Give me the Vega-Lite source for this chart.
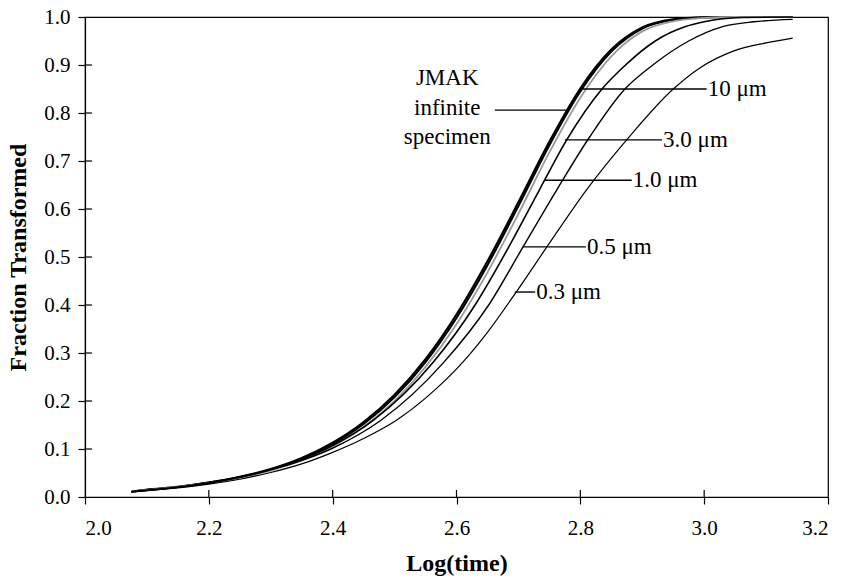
{
  "$schema": "https://vega.github.io/schema/vega-lite/v6.json",
  "width": 743,
  "height": 480,
  "autosize": "none",
  "padding": {"left": 85, "top": 17, "right": 16, "bottom": 84},
  "background": "white",
  "config": {
    "font": "Liberation Serif",
    "view": {"stroke": "black", "strokeWidth": 1.2},
    "axis": {"grid": false, "domainColor": "black", "tickColor": "black", "labelColor": "black", "titleColor": "black", "domainWidth": 1.2, "tickWidth": 1.2, "labelFont": "Liberation Serif", "titleFont": "Liberation Serif"},
    "text": {"font": "Liberation Serif"}
  },
  "datasets": {
    "curves": [
      {"s":"JMAK","L":2.075,"f":0.011},{"s":"JMAK","L":2.10,"f":0.015},{"s":"JMAK","L":2.15,"f":0.021},{"s":"JMAK","L":2.20,"f":0.030},{"s":"JMAK","L":2.25,"f":0.042},{"s":"JMAK","L":2.30,"f":0.058},{"s":"JMAK","L":2.35,"f":0.081},{"s":"JMAK","L":2.40,"f":0.113},{"s":"JMAK","L":2.45,"f":0.156},{"s":"JMAK","L":2.50,"f":0.213},{"s":"JMAK","L":2.55,"f":0.287},{"s":"JMAK","L":2.60,"f":0.380},{"s":"JMAK","L":2.65,"f":0.491},{"s":"JMAK","L":2.70,"f":0.614},{"s":"JMAK","L":2.75,"f":0.740},{"s":"JMAK","L":2.80,"f":0.851},{"s":"JMAK","L":2.85,"f":0.932},{"s":"JMAK","L":2.90,"f":0.978},{"s":"JMAK","L":2.95,"f":0.995},{"s":"JMAK","L":3.00,"f":0.9995},{"s":"JMAK","L":3.05,"f":1.0},{"s":"JMAK","L":3.143,"f":1.0},
      {"s":"10 μm","L":2.075,"f":0.011},{"s":"10 μm","L":2.10,"f":0.015},{"s":"10 μm","L":2.15,"f":0.021},{"s":"10 μm","L":2.20,"f":0.030},{"s":"10 μm","L":2.25,"f":0.041},{"s":"10 μm","L":2.30,"f":0.057},{"s":"10 μm","L":2.35,"f":0.079},{"s":"10 μm","L":2.40,"f":0.110},{"s":"10 μm","L":2.45,"f":0.152},{"s":"10 μm","L":2.50,"f":0.208},{"s":"10 μm","L":2.55,"f":0.281},{"s":"10 μm","L":2.60,"f":0.373},{"s":"10 μm","L":2.65,"f":0.483},{"s":"10 μm","L":2.70,"f":0.606},{"s":"10 μm","L":2.75,"f":0.733},{"s":"10 μm","L":2.80,"f":0.845},{"s":"10 μm","L":2.85,"f":0.928},{"s":"10 μm","L":2.90,"f":0.976},{"s":"10 μm","L":2.95,"f":0.994},{"s":"10 μm","L":3.00,"f":0.999},{"s":"10 μm","L":3.05,"f":1.0},{"s":"10 μm","L":3.143,"f":1.0},
      {"s":"3.0 μm","L":2.075,"f":0.011},{"s":"3.0 μm","L":2.15,"f":0.021},{"s":"3.0 μm","L":2.20,"f":0.029},{"s":"3.0 μm","L":2.25,"f":0.040},{"s":"3.0 μm","L":2.30,"f":0.055},{"s":"3.0 μm","L":2.35,"f":0.076},{"s":"3.0 μm","L":2.40,"f":0.106},{"s":"3.0 μm","L":2.45,"f":0.146},{"s":"3.0 μm","L":2.50,"f":0.200},{"s":"3.0 μm","L":2.55,"f":0.271},{"s":"3.0 μm","L":2.60,"f":0.360},{"s":"3.0 μm","L":2.65,"f":0.468},{"s":"3.0 μm","L":2.70,"f":0.590},{"s":"3.0 μm","L":2.75,"f":0.718},{"s":"3.0 μm","L":2.80,"f":0.832},{"s":"3.0 μm","L":2.85,"f":0.918},{"s":"3.0 μm","L":2.90,"f":0.970},{"s":"3.0 μm","L":2.95,"f":0.991},{"s":"3.0 μm","L":3.00,"f":0.998},{"s":"3.0 μm","L":3.05,"f":1.0},{"s":"3.0 μm","L":3.143,"f":1.0},
      {"s":"1.0 μm","L":2.075,"f":0.011},{"s":"1.0 μm","L":2.203,"f":0.03},{"s":"1.0 μm","L":2.307,"f":0.06},{"s":"1.0 μm","L":2.389,"f":0.10},{"s":"1.0 μm","L":2.466,"f":0.16},{"s":"1.0 μm","L":2.562,"f":0.28},{"s":"1.0 μm","L":2.630,"f":0.40},{"s":"1.0 μm","L":2.684,"f":0.52},{"s":"1.0 μm","L":2.734,"f":0.64},{"s":"1.0 μm","L":2.778,"f":0.744},{"s":"1.0 μm","L":2.835,"f":0.85},{"s":"1.0 μm","L":2.873,"f":0.90},{"s":"1.0 μm","L":2.921,"f":0.95},{"s":"1.0 μm","L":2.970,"f":0.98},{"s":"1.0 μm","L":3.000,"f":0.99},{"s":"1.0 μm","L":3.06,"f":0.999},{"s":"1.0 μm","L":3.143,"f":1.0},
      {"s":"0.5 μm","L":2.075,"f":0.011},{"s":"0.5 μm","L":2.205,"f":0.03},{"s":"0.5 μm","L":2.310,"f":0.06},{"s":"0.5 μm","L":2.397,"f":0.10},{"s":"0.5 μm","L":2.478,"f":0.16},{"s":"0.5 μm","L":2.579,"f":0.28},{"s":"0.5 μm","L":2.652,"f":0.40},{"s":"0.5 μm","L":2.707,"f":0.52},{"s":"0.5 μm","L":2.762,"f":0.64},{"s":"0.5 μm","L":2.815,"f":0.75},{"s":"0.5 μm","L":2.872,"f":0.85},{"s":"0.5 μm","L":2.917,"f":0.90},{"s":"0.5 μm","L":2.975,"f":0.95},{"s":"0.5 μm","L":3.03,"f":0.98},{"s":"0.5 μm","L":3.08,"f":0.99},{"s":"0.5 μm","L":3.143,"f":0.995},
      {"s":"0.3 μm","L":2.075,"f":0.011},{"s":"0.3 μm","L":2.15,"f":0.019},{"s":"0.3 μm","L":2.20,"f":0.027},{"s":"0.3 μm","L":2.25,"f":0.037},{"s":"0.3 μm","L":2.30,"f":0.051},{"s":"0.3 μm","L":2.35,"f":0.069},{"s":"0.3 μm","L":2.396,"f":0.091},{"s":"0.3 μm","L":2.45,"f":0.122},{"s":"0.3 μm","L":2.503,"f":0.160},{"s":"0.3 μm","L":2.55,"f":0.206},{"s":"0.3 μm","L":2.611,"f":0.282},{"s":"0.3 μm","L":2.65,"f":0.343},{"s":"0.3 μm","L":2.697,"f":0.428},{"s":"0.3 μm","L":2.746,"f":0.521},{"s":"0.3 μm","L":2.810,"f":0.640},{"s":"0.3 μm","L":2.88,"f":0.752},{"s":"0.3 μm","L":2.950,"f":0.85},{"s":"0.3 μm","L":2.993,"f":0.894},{"s":"0.3 μm","L":3.047,"f":0.929},{"s":"0.3 μm","L":3.10,"f":0.946},{"s":"0.3 μm","L":3.143,"f":0.956}
    ],
    "leaders": [
      {"L1":2.662,"L2":2.779,"f":0.806,"t":""},
      {"L1":2.804,"L2":3.004,"f":0.850,"t":"10 μm"},
      {"L1":2.775,"L2":2.932,"f":0.744,"t":"3.0 μm"},
      {"L1":2.743,"L2":2.883,"f":0.660,"t":"1.0 μm"},
      {"L1":2.707,"L2":2.809,"f":0.521,"t":"0.5 μm"},
      {"L1":2.694,"L2":2.727,"f":0.427,"t":"0.3 μm"}
    ],
    "jmak": [
      {"L":2.585,"f":0.873,"t":"JMAK"},
      {"L":2.585,"f":0.810,"t":"infinite"},
      {"L":2.585,"f":0.750,"t":"specimen"}
    ],
    "yticks": [{"v":0.1},{"v":0.2},{"v":0.3},{"v":0.4},{"v":0.5},{"v":0.6},{"v":0.7},{"v":0.8},{"v":0.9}],
    "xticks": [{"v":2.2},{"v":2.4},{"v":2.6},{"v":2.8},{"v":3.0}]
  },
  "resolve": {"scale": {"x": "independent", "y": "independent"}, "axis": {"x": "independent", "y": "independent"}},
  "layer": [
    {
      "data": {"name": "curves"},
      "mark": {"type": "line", "interpolate": "monotone"},
      "encoding": {
        "x": {"field": "L", "type": "quantitative", "scale": {"domain": [2.0, 3.2], "nice": false, "zero": false},
          "axis": {"orient": "bottom", "values": [2.0, 2.2, 2.4, 2.6, 2.8, 3.0, 3.2], "format": ".1f", "tickSize": 7, "labelPadding": 13, "labelFontSize": 21, "title": "Log(time)", "titleFontSize": 24, "titleFontWeight": "bold", "titleY": 66, "titleBaseline": "middle"}},
        "y": {"field": "f", "type": "quantitative", "scale": {"domain": [0, 1], "nice": false, "zero": false},
          "axis": {"orient": "left", "values": [0, 0.1, 0.2, 0.3, 0.4, 0.5, 0.6, 0.7, 0.8, 0.9, 1.0], "format": ".1f", "tickSize": 7, "labelPadding": 8, "labelFontSize": 21, "title": "Fraction Transformed", "titleFontSize": 24, "titleFontWeight": "bold", "titleX": -67, "titleY": 240, "titleAngle": -90, "titleAlign": "center", "titleBaseline": "middle"}},
        "color": {"field": "s", "type": "nominal", "legend": null,
          "scale": {"domain": ["JMAK", "10 μm", "3.0 μm", "1.0 μm", "0.5 μm", "0.3 μm"], "range": ["#000000", "#000000", "#9a9a9a", "#000000", "#000000", "#000000"]}},
        "strokeWidth": {"field": "s", "type": "nominal", "legend": null,
          "scale": {"domain": ["JMAK", "10 μm", "3.0 μm", "1.0 μm", "0.5 μm", "0.3 μm"], "range": [2.2, 1.2, 1.2, 1.4, 1.4, 1.4]}}
      }
    },
    {
      "data": {"name": "yticks"},
      "mark": {"type": "rule", "color": "black", "strokeWidth": 1.2},
      "encoding": {
        "x": {"datum": 2.0, "type": "quantitative", "scale": {"domain": [2.0, 3.2], "nice": false, "zero": false}, "axis": null},
        "x2": {"datum": 2.0115},
        "y": {"field": "v", "type": "quantitative", "scale": {"domain": [0, 1], "nice": false, "zero": false}, "axis": null}
      }
    },
    {
      "data": {"name": "xticks"},
      "mark": {"type": "rule", "color": "black", "strokeWidth": 1.2},
      "encoding": {
        "x": {"field": "v", "type": "quantitative", "scale": {"domain": [2.0, 3.2], "nice": false, "zero": false}, "axis": null},
        "y": {"datum": 0, "type": "quantitative", "scale": {"domain": [0, 1], "nice": false, "zero": false}, "axis": null},
        "y2": {"datum": 0.0146}
      }
    },
    {
      "data": {"name": "leaders"},
      "mark": {"type": "rule", "color": "black", "strokeWidth": 1.4},
      "encoding": {
        "x": {"field": "L1", "type": "quantitative", "scale": {"domain": [2.0, 3.2], "nice": false, "zero": false}, "axis": null},
        "x2": {"field": "L2"},
        "y": {"field": "f", "type": "quantitative", "scale": {"domain": [0, 1], "nice": false, "zero": false}, "axis": null}
      }
    },
    {
      "data": {"name": "leaders"},
      "mark": {"type": "text", "align": "left", "baseline": "middle", "dx": 1, "fontSize": 23, "color": "black"},
      "encoding": {
        "x": {"field": "L2", "type": "quantitative", "scale": {"domain": [2.0, 3.2], "nice": false, "zero": false}, "axis": null},
        "y": {"field": "f", "type": "quantitative", "scale": {"domain": [0, 1], "nice": false, "zero": false}, "axis": null},
        "text": {"field": "t"}
      }
    },
    {
      "data": {"name": "jmak"},
      "mark": {"type": "text", "align": "center", "baseline": "middle", "fontSize": 23, "color": "black"},
      "encoding": {
        "x": {"field": "L", "type": "quantitative", "scale": {"domain": [2.0, 3.2], "nice": false, "zero": false}, "axis": null},
        "y": {"field": "f", "type": "quantitative", "scale": {"domain": [0, 1], "nice": false, "zero": false}, "axis": null},
        "text": {"field": "t"}
      }
    }
  ]
}
